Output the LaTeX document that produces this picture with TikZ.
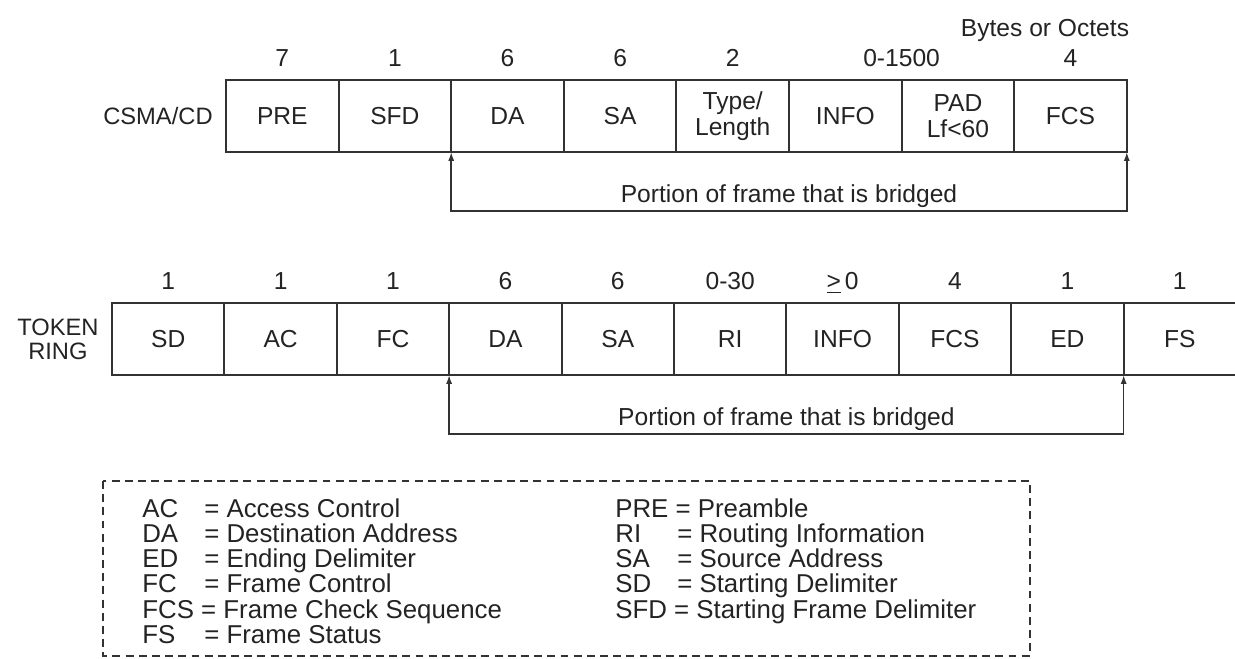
\documentclass[tikz,border=0pt]{standalone}
\usepackage{fontspec}
\setmainfont{Liberation Sans}
\usepackage{tikz}
\usetikzlibrary{arrows.meta, positioning}
\definecolor{cline}{RGB}{50,50,50}
\definecolor{ctext}{RGB}{35,35,35}
\tikzset{
  field/.style={rectangle, draw=cline, line width=1.1pt, text=ctext,
                minimum width=2.252cm, minimum height=1.44cm,
                inner sep=0pt, outer sep=0pt, align=center,
                font=\fontsize{14}{15}\selectfont},
  size/.style={text=ctext, inner sep=0pt, text depth=0pt,
               font=\fontsize{14}{16}\selectfont},
  tag/.style={text=ctext, inner sep=0pt, align=center,
              font=\fontsize{13.5}{13.6}\selectfont},
  bridge/.style={{Latex[length=5pt,width=3.4pt]}-{Latex[length=5pt,width=3.4pt]},
                 draw=cline, line width=0.9pt},
  note/.style={text=ctext, inner sep=0pt, font=\fontsize{14}{16}\selectfont},
  key/.style={text=ctext, inner sep=0pt, align=left, anchor=north west,
              font=\fontsize{14.7}{14.4}\selectfont},
  legend/.style={draw=cline, line width=0.8pt, dash pattern=on 4.5pt off 3pt},
}
\newcommand{\keyrow}[2]{\makebox[2.4em][l]{#1}= #2}

\begin{document}
\begin{tikzpicture}[x=0.02cm, y=-0.02cm]
  \useasboundingbox (0,0) rectangle (1235,659);

  % ── CSMA/CD frame ──────────────────────────────────────────────────────────
  \foreach \lbl [count=\i] in {PRE, SFD, DA, SA, {Type/\\Length}, INFO,
                               {PAD\\Lf<60}, FCS}
    \node[field] (c\i) at ({226+112.6*(\i-0.5)}, 116) {\lbl};
  \node[tag, left=0.26cm of c1] (csma) {CSMA/CD};

  \foreach \n [count=\i] in {7, 1, 6, 6, 2}
    \node[size, above=0.26cm of c\i] (cn\i) {\n};
  \node[size, above=0.26cm of c6.north east] (cn6) {0-1500};
  \node[size, above=0.26cm of c8] (cn8) {4};
  \node[size] (unit) at (1045, 28) {Bytes or Octets};

  \draw[bridge] (c3.south west) -- ++(0,59) -|
      node[note, pos=0.25, above=1.5pt] {Portion of frame that is bridged}
      (c8.south east);

  % ── Token Ring frame ───────────────────────────────────────────────────────
  \foreach \lbl [count=\i] in {SD, AC, FC, DA, SA, RI, INFO, FCS, ED, FS}
    \node[field] (t\i) at ({112+112.4*(\i-0.5)}, 339) {\lbl};
  \node[tag, left=0.26cm of t1] (token) {TOKEN\\RING};

  \foreach \n [count=\i] in {1, 1, 1, 6, 6, 0-30, {\underline{>}\,0}, 4, 1, 1}
    \node[size, above=0.26cm of t\i] (tn\i) {\n};

  \draw[bridge] (t4.south west) -- ++(0,59) -|
      node[note, pos=0.25, above=1.5pt] {Portion of frame that is bridged}
      (t9.south east);

  % ── Legend ─────────────────────────────────────────────────────────────────
  \draw[legend] (103,481) rectangle (1030,656);
  \node[key] (keyl) at (142, 498)
      {\keyrow{AC}{Access Control}\\
       \keyrow{DA}{Destination Address}\\
       \keyrow{ED}{Ending Delimiter}\\
       \keyrow{FC}{Frame Control}\\
       FCS = Frame Check Sequence\\
       \keyrow{FS}{Frame Status}};
  \node[key] (keyr) at (615, 498)
      {PRE = Preamble\\
       \keyrow{RI}{Routing Information}\\
       \keyrow{SA}{Source Address}\\
       \keyrow{SD}{Starting Delimiter}\\
       SFD = Starting Frame Delimiter};
\end{tikzpicture}
\end{document}
